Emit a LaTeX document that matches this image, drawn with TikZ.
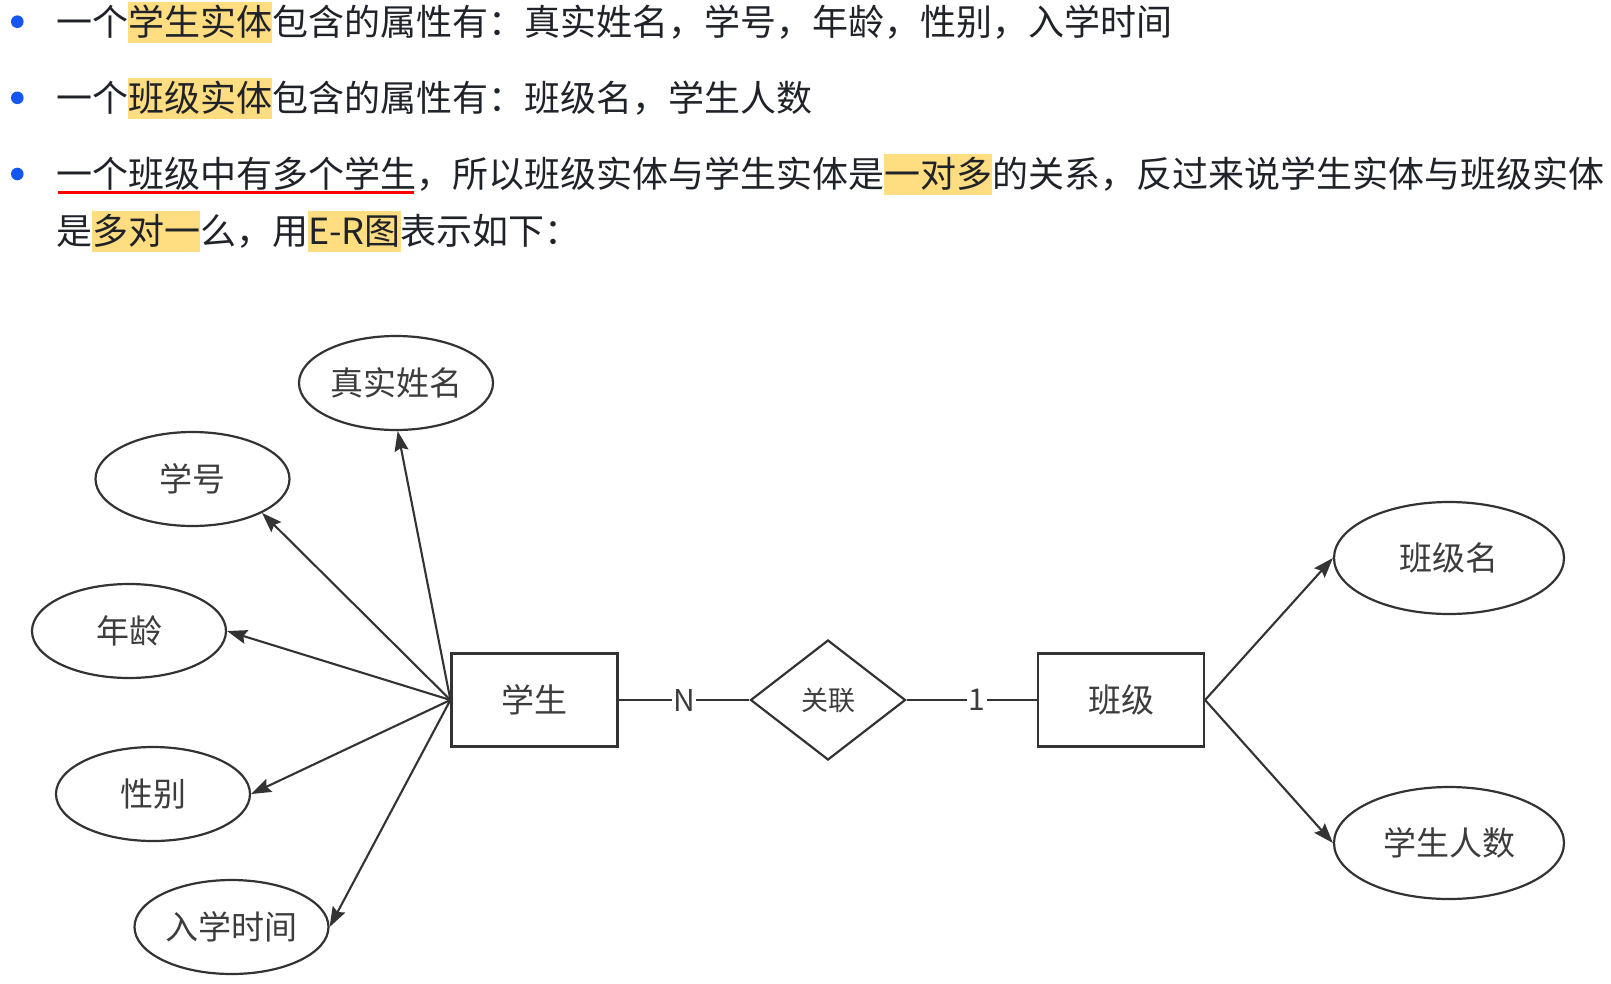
\documentclass[tikz,border=0pt]{standalone}
\usepackage{fontspec}
\setmainfont{Noto Sans CJK SC}
\usetikzlibrary{shapes.geometric,arrows.meta}
\definecolor{txt}{HTML}{1F2329}
\definecolor{hly}{HTML}{FFDD80}
\definecolor{bul}{HTML}{1456F0}
\definecolor{dg}{HTML}{333333}
\definecolor{lbl}{HTML}{3C3C3C}
\definecolor{ulred}{HTML}{FF0000}
\newcommand{\hlt}[1]{{\setlength{\fboxsep}{0pt}\colorbox{hly}{\rule[-0.22em]{0pt}{1.14em}#1}}}
\tikzset{
  txtline/.style={anchor=base west, inner sep=0pt, text=txt, font=\fontsize{36pt}{40pt}\selectfont},
  bulletdot/.style={circle, fill=bul, inner sep=0pt, minimum size=12.6pt},
  attr/.style={ellipse, draw=dg, line width=2.2pt, minimum width=194pt, minimum height=94pt, inner sep=0pt, text=lbl, font=\fontsize{33pt}{36pt}\selectfont},
  attrR/.style={attr, minimum width=230pt, minimum height=112pt},
  ent/.style={rectangle, draw=dg, line width=2.2pt, minimum width=166pt, minimum height=93pt, inner sep=0pt, text=lbl, font=\fontsize{33pt}{36pt}\selectfont},
  rel/.style={diamond, draw=dg, line width=2.2pt, minimum width=155pt, minimum height=120pt, inner sep=0pt, text=lbl, font=\fontsize{27pt}{30pt}\selectfont},
  arr/.style={draw=dg, line width=2.1pt, -{Stealth[length=20pt,width=14pt,inset=3pt]}},
  conn/.style={draw=dg, line width=2.2pt},
  card/.style={fill=white, inner sep=1.5pt, text=lbl, font=\fontsize{30pt}{32pt}\selectfont}
}
\begin{document}
\begin{tikzpicture}[x=1pt,y=-1pt]
\useasboundingbox (0,0) rectangle (1611,983);
% text lines
\node[bulletdot] (b1) at (17.3,21.7) {};
\node[bulletdot] (b2) at (17.3,97.8) {};
\node[bulletdot] (b3) at (17.3,174) {};
\node[txtline] (l1) at (56,35) {一个\hlt{学生实体}包含的属性有：真实姓名，学号，年龄，性别，入学时间};
\node[txtline] (l2) at (56,111.3) {一个\hlt{班级实体}包含的属性有：班级名，学生人数};
\node[txtline] (l3) at (56,187.5) {一个班级中有多个学生，所以班级实体与学生实体是\hlt{一对多}的关系，反过来说学生实体与班级实体};
\node[txtline] (l4) at (56,244) {是\hlt{多对一}么，用\hlt{E-R图}表示如下：};
\draw[ulred, line width=2.6pt] (58,192.7) -- (413.5,192.7);
% ER diagram
\node[attr] (zs) at (396,383) {真实姓名};
\node[attr] (xh) at (192.5,479) {学号};
\node[attr] (nl) at (129,631) {年龄};
\node[attr] (xb) at (153,794) {性别};
\node[attr] (rx) at (231.5,927) {入学时间};
\node[ent] (xs) at (534.5,700) {学生};
\node[rel] (gl) at (828,700) {关联};
\node[ent] (bj) at (1121,700) {班级};
\node[attrR] (bjm) at (1449,558) {班级名};
\node[attrR] (xsrs) at (1449,843) {学生人数};
\draw[conn] (xs.east) -- node[card] {N} (gl.west);
\draw[conn] (gl.east) -- node[card,pos=0.54] {1} (bj.west);
\draw[arr] (xs.west) -- (zs.-88);
\draw[arr] (xs.west) -- (xh.-26);
\draw[arr] (xs.west) -- (nl.east);
\draw[arr] (xs.west) -- (xb.east);
\draw[arr] (xs.west) -- (rx.east);
\draw[arr] (bj.east) -- (bjm.west);
\draw[arr] (bj.east) -- (xsrs.west);
\end{tikzpicture}
\end{document}
